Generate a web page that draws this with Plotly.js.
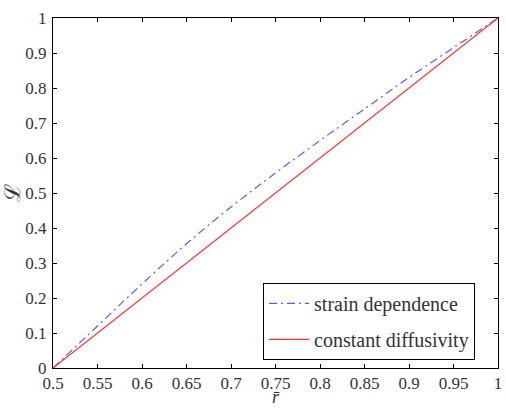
<!DOCTYPE html>
<html>
<head>
<meta charset="utf-8">
<script src="https://cdn.plot.ly/plotly-3.0.1.min.js"></script>
<style>html,body{margin:0;padding:0;background:#fff;}#chart{width:506px;height:411px;}</style>
</head>
<body>
<div id="chart"></div>
<script>
const rBar = [0.5, 0.55, 0.6, 0.65, 0.7, 0.75, 0.8, 0.85, 0.9, 0.95, 1.0];
const strainDependence = [0, 0.12, 0.24, 0.355, 0.46, 0.557, 0.65, 0.74, 0.83, 0.915, 1.0];
const constantR = [0.5, 1.0];
const constantDiffusivity = [0, 1.0];
const xTicks = [0.5, 0.55, 0.6, 0.65, 0.7, 0.75, 0.8, 0.85, 0.9, 0.95, 1];
const xTickText = ['0.5','0.55','0.6','0.65','0.7','0.75','0.8','0.85','0.9','0.95','1'];
const yTicks = [0, 0.1, 0.2, 0.3, 0.4, 0.5, 0.6, 0.7, 0.8, 0.9, 1];
const yTickText = ['0','0.1','0.2','0.3','0.4','0.5','0.6','0.7','0.8','0.9','1'];
const xTitle = '<i>r̄</i>';
const yTitle = 'ℒ';

const fam = "Liberation Serif";
const font = {family: fam, size: 17, color: '#333'};
const legFont = {family: fam, size: 20, color: '#333'};

const traces = [
  {x: rBar, y: strainDependence, mode: 'lines', name: 'strain dependence', legendgroup: 'a',
   line: {color: '#5a5aff', width: 1.2, dash: '8px,4px,2px,4px', shape: 'spline'}},
  {x: constantR, y: constantDiffusivity, mode: 'lines', name: 'constant diffusivity', legendgroup: 'b',
   line: {color: '#ff3030', width: 1.2}}
];

const axisCommon = {
  showgrid: false, zeroline: false, showline: true, linecolor: '#000', linewidth: 1,
  mirror: 'ticks', ticks: 'inside', ticklen: 4, tickcolor: '#000', tickwidth: 1,
  tickfont: font, tickmode: 'array'
};

const layout = {
  width: 506, height: 411,
  margin: {l: 53, r: 8, t: 18, b: 43},
  paper_bgcolor: '#fff', plot_bgcolor: '#fff',
  font: font,
  showlegend: true,
  xaxis: Object.assign({}, axisCommon, {range: [0.5, 1], tickvals: xTicks, ticktext: xTickText}),
  yaxis: Object.assign({}, axisCommon, {range: [0, 1], tickvals: yTicks, ticktext: yTickText,
    ticklabelstandoff: 2,
    title: {text: yTitle, font: {family: fam, size: 22, color: '#333'}, standoff: 6}}),
  annotations: [{text: xTitle, xref: 'paper', yref: 'paper', x: 0.5, y: -0.117,
    xanchor: 'center', yanchor: 'bottom', showarrow: false,
    font: {family: fam, size: 18, color: '#333'}}],
  legend: {x: 0.472, y: 0.023, xanchor: 'left', yanchor: 'bottom', bgcolor: '#fff',
    bordercolor: '#000', borderwidth: 1, font: legFont, itemwidth: 40,
    traceorder: 'grouped', tracegroupgap: 7}
};

Plotly.newPlot('chart', traces, layout, {displayModeBar: false, staticPlot: true});
</script>
</body>
</html>
